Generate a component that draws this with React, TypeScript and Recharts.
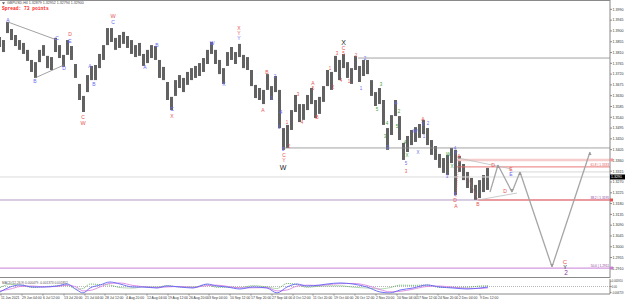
import React from 'react';
import { ComposedChart, Bar, Line, XAxis, YAxis, ReferenceLine, ReferenceDot } from 'recharts';

// H4 candles grouped in 4px columns, high / low
const highs = [
  1.3875, 1.3862, 1.3937, 1.3908, 1.3883, 1.3862, 1.3850, 1.3821, 1.3779, 1.3770,
  1.3821, 1.3841, 1.3796, 1.3791, 1.3871, 1.3841, 1.3800, 1.3862, 1.3837, 1.3762,
  1.3679, 1.3629, 1.3716, 1.3754, 1.3758, 1.3804, 1.3841, 1.3912, 1.3912, 1.3871,
  1.3883, 1.3896, 1.3879, 1.3862, 1.3841, 1.3850, 1.3804, 1.3821, 1.3841, 1.3837,
  1.3779, 1.3750, 1.3687, 1.3625, 1.3695, 1.3716, 1.3704, 1.3729, 1.3745, 1.3754,
  1.3766, 1.3787, 1.3821, 1.3854, 1.3821, 1.3779, 1.3745, 1.3812, 1.3833, 1.3812,
  1.3846, 1.3800, 1.3791, 1.3737, 1.3675, 1.3662, 1.3654, 1.3720, 1.3670, 1.3712,
  1.3654, 1.3495, 1.3508, 1.3570, 1.3633, 1.3595, 1.3595, 1.3633, 1.3662, 1.3612,
  1.3625, 1.3670, 1.3737, 1.3729, 1.3796, 1.3779, 1.3804, 1.3770, 1.3745, 1.3796,
  1.3754, 1.3779, 1.3779, 1.3695, 1.3645, 1.3662, 1.3612, 1.3495, 1.3549, 1.3612,
  1.3545, 1.3433, 1.3462, 1.3487, 1.3499, 1.3512, 1.3529, 1.3495, 1.3445, 1.3420,
  1.3387, 1.3370, 1.3383, 1.3412, 1.3404, 1.3379, 1.3345, 1.3312, 1.3287, 1.3258,
  1.3278, 1.3299, 1.3329,
];
const lows = [
  1.3833, 1.3812, 1.3891, 1.3862, 1.3837, 1.3821, 1.3804, 1.3775, 1.3729, 1.3704,
  1.3770, 1.3796, 1.3745, 1.3737, 1.3812, 1.3787, 1.3750, 1.3800, 1.3779, 1.3704,
  1.3612, 1.3562, 1.3645, 1.3695, 1.3695, 1.3745, 1.3779, 1.3841, 1.3854, 1.3821,
  1.3829, 1.3846, 1.3829, 1.3804, 1.3791, 1.3796, 1.3754, 1.3766, 1.3787, 1.3779,
  1.3704, 1.3695, 1.3612, 1.3570, 1.3629, 1.3662, 1.3645, 1.3675, 1.3695, 1.3704,
  1.3712, 1.3729, 1.3762, 1.3804, 1.3762, 1.3720, 1.3679, 1.3754, 1.3779, 1.3762,
  1.3791, 1.3745, 1.3737, 1.3670, 1.3620, 1.3612, 1.3595, 1.3654, 1.3612, 1.3645,
  1.3495, 1.3404, 1.3412, 1.3487, 1.3562, 1.3520, 1.3529, 1.3570, 1.3595, 1.3537,
  1.3554, 1.3604, 1.3670, 1.3654, 1.3729, 1.3695, 1.3745, 1.3704, 1.3679, 1.3737,
  1.3687, 1.3712, 1.3720, 1.3629, 1.3587, 1.3595, 1.3508, 1.3404, 1.3466, 1.3545,
  1.3445, 1.3362, 1.3395, 1.3424, 1.3437, 1.3454, 1.3470, 1.3424, 1.3383, 1.3362,
  1.3329, 1.3308, 1.3299, 1.3349, 1.3216, 1.3312, 1.3278, 1.3245, 1.3224, 1.3195,
  1.3203, 1.3228, 1.3237,
];

const priceTicks = [
  1.3990, 1.3945, 1.3900, 1.3855, 1.3810, 1.3765, 1.3720, 1.3675, 1.3630, 1.3585,
  1.3540, 1.3495, 1.3450, 1.3405, 1.3360, 1.3315, 1.3270, 1.3225, 1.3180, 1.3135,
  1.3090, 1.3045, 1.3000, 1.2955, 1.2910,
];

const dateTicks = [
  0.25, 5.5, 10.75, 16, 21.25, 26.25, 31.5, 36.75, 42, 47.25, 52.25, 57.5,
  62.75, 68, 73.25, 78.25, 83.5, 88.75, 94, 99.25, 104.25, 109.5, 114.75, 120,
];
const dateLabels = [
  '11 Jun 2021', '29 Jun 04:00', '6 Jul 12:00', '13 Jul 20:00', '21 Jul 04:00', '28 Jul 12:00',
  '4 Aug 20:00', '12 Aug 04:00', '19 Aug 12:00', '26 Aug 20:00', '3 Sep 04:00', '10 Sep 12:00',
  '17 Sep 20:00', '27 Sep 04:00', '4 Oct 12:00', '11 Oct 20:00', '19 Oct 04:00', '26 Oct 12:00',
  '2 Nov 20:00', '10 Nov 04:00', '17 Nov 12:00', '24 Nov 20:00', '2 Dec 04:00', '9 Dec 12:00',
];

// forecast path (column, price)
const pathT = [122.5, 124.5, 128, 130, 138, 147.5];
const pathP = [1.3228, 1.3341, 1.3228, 1.3312, 1.2916, 1.3395];

// oscillator
const oscT = [
  0, 2.5, 5, 8.25, 10.75, 14.25, 16.75, 19.25, 20.75, 22.5, 25, 27.5, 30, 33.25, 35.75,
  39.25, 41.75, 45, 48.25, 51.75, 54.25, 56.75, 60, 63.25, 66.75, 69.25, 71.75, 74.25,
  76.75, 80, 81.75, 85, 88.25, 91.75, 95, 97.5, 100, 103.25, 106.75, 110, 113.25, 116.75,
  120, 122,
];
const macdMain = [
  -0.0062, -0.0006, 0.0017, -0.0006, -0.0006, 0.0006, 0.0028, -0.0040, -0.0073, -0.0017,
  0.0017, 0.0051, 0.0028, -0.0006, -0.0006, -0.0017, 0.0006, -0.0006, -0.0017, 0.0028,
  0.0006, -0.0006, -0.0028, -0.0006, -0.0017, -0.0073, -0.0006, 0.0028, 0.0006, 0.0017,
  0.0028, 0.0040, 0.0028, -0.0006, -0.0062, -0.0073, -0.0040, -0.0017, 0.0017, -0.0006,
  -0.0017, -0.0028, -0.0017, -0.0006,
];
const macdSignal = [
  -0.0050, -0.0030, 0.0000, 0.0005, -0.0004, 0.0000, 0.0015, -0.0010, -0.0050, -0.0045,
  -0.0005, 0.0035, 0.0040, 0.0012, -0.0002, -0.0010, -0.0005, 0.0000, -0.0010, 0.0010,
  0.0015, 0.0002, -0.0015, -0.0015, -0.0012, -0.0050, -0.0040, 0.0005, 0.0015, 0.0012,
  0.0020, 0.0032, 0.0035, 0.0012, -0.0035, -0.0060, -0.0055, -0.0030, 0.0000, 0.0005,
  -0.0008, -0.0020, -0.0022, -0.0015,
];
const macdHist = [
  -0.0012, 0.0024, 0.0017, -0.0011, -0.0002, 0.0006, 0.0013, -0.0030, -0.0023, 0.0028,
  0.0022, 0.0016, -0.0012, -0.0018, -0.0004, -0.0007, 0.0011, -0.0006, -0.0007, 0.0018,
  -0.0009, -0.0008, -0.0013, 0.0009, -0.0005, -0.0023, 0.0034, 0.0023, -0.0009, 0.0005,
  0.0008, 0.0008, -0.0007, -0.0018, -0.0027, -0.0013, 0.0015, 0.0013, 0.0017, -0.0011,
  -0.0009, -0.0008, 0.0005, 0.0009,
];

const RED = '#e65353';
const BLUE = '#6a6af2';
const GREEN = '#3c9c3c';
const BLACK = '#222';
const PURPLE = '#8a3a9e';

// wave labels: column, price, text, colour, size
const waveLabels: [number, number, string, string, number][] = [
  [2, 1.3946, 'A', BLUE, 5], [8.75, 1.3691, 'B', BLUE, 5], [14.25, 1.3871, 'C', BLUE, 5],
  [16, 1.3745, 'D', BLUE, 5], [17.5, 1.3887, 'D', RED, 5], [17.5, 1.3858, 'E', BLUE, 5],
  [28.25, 1.3962, 'W', RED, 5.5], [28.25, 1.3937, 'C', BLUE, 5], [22.5, 1.3754, 'A', BLUE, 5],
  [23.5, 1.3679, 'B', BLUE, 5], [20.75, 1.3541, 'C', RED, 5], [20.75, 1.3516, 'W', RED, 5.5],
  [39.25, 1.3841, 'B', BLUE, 5], [36.25, 1.3750, 'A', BLUE, 5], [43, 1.3574, 'C', BLUE, 5],
  [43, 1.3545, 'X', RED, 5], [53, 1.3850, 'W', BLUE, 5], [56, 1.3679, 'X', BLUE, 5],
  [59.75, 1.3912, 'X', RED, 5], [59.75, 1.3891, 'Y', RED, 5], [59.75, 1.3871, 'Y', BLUE, 5],
  [66.75, 1.3729, 'B', RED, 5], [65.75, 1.3570, 'A', RED, 5], [68.75, 1.3708, '2', BLUE, 4.5],
  [68, 1.3620, '1', BLUE, 4.5], [70.25, 1.3558, '4', BLUE, 4.5], [69.75, 1.3499, '3', BLUE, 4.5],
  [70.75, 1.3404, '5', BLUE, 4.5], [71, 1.3383, 'C', RED, 5], [71, 1.3362, 'Y', RED, 5],
  [70.75, 1.3330, 'W', BLACK, 7], [71.75, 1.3520, '1', RED, 4.5], [72.25, 1.3420, '2', RED, 4.5],
  [74.5, 1.3637, '3', RED, 4.5], [75.5, 1.3520, '4', RED, 4.5], [78.25, 1.3683, 'A', RED, 5],
  [78.25, 1.3658, '5', RED, 4.5], [79.25, 1.3541, 'B', RED, 5], [82.5, 1.3745, '1', RED, 4.5],
  [83.25, 1.3666, '2', RED, 4.5], [84.25, 1.3804, '3', RED, 4.5], [85.25, 1.3695, '4', RED, 4.5],
  [85.9, 1.3804, '5', RED, 4.5], [85.9, 1.3827, 'C', RED, 5], [85.9, 1.3852, 'X', BLACK, 7],
  [87.25, 1.3691, '1', RED, 4.5], [89, 1.3796, '2', RED, 4.5], [90.25, 1.3662, '1', BLUE, 4.5],
  [91.25, 1.3783, '2', BLUE, 4.5], [95.25, 1.3675, '3', GREEN, 4.5], [94.25, 1.3574, '5', GREEN, 4.5],
  [99, 1.3599, '4', BLUE, 4.5], [99.75, 1.3562, '2', GREEN, 4.5], [99.25, 1.3503, '5', GREEN, 4.5],
  [96.75, 1.3512, '4', GREEN, 4.5], [96.25, 1.3458, '3', GREEN, 4.5], [97, 1.3412, '3', BLUE, 4.5],
  [103.75, 1.3483, 'W', BLUE, 5], [105.75, 1.3533, 'A', RED, 5], [105.75, 1.3512, 'Y', BLUE, 5],
  [107, 1.3516, '2', BLUE, 4.5], [106, 1.3458, '1', BLUE, 4.5], [101.25, 1.3433, '4', GREEN, 4.5],
  [101.75, 1.3379, 'X', GREEN, 4.5], [101.5, 1.3349, '5', BLUE, 4.5], [101.5, 1.3312, '3', RED, 4.5],
  [104.5, 1.3391, 'X', BLUE, 4.5], [112, 1.3383, 'W', GREEN, 4.5], [113.75, 1.3408, '4', BLUE, 4.5],
  [114, 1.3387, 'Y', BLUE, 4.5], [113, 1.3333, 'X', GREEN, 4.5], [111.75, 1.3291, '3', BLUE, 4.5],
  [114.75, 1.3379, 'A', RED, 5], [113.75, 1.3216, '5', BLUE, 4.5], [113.75, 1.3195, 'D', RED, 5],
  [114, 1.3170, 'A', RED, 5], [119.5, 1.3178, 'B', RED, 5], [123.25, 1.3341, 'D', RED, 5],
  [126.25, 1.3233, 'D', RED, 5], [127.75, 1.3324, 'E', RED, 5], [127.75, 1.3303, 'E', BLUE, 5],
  [141.25, 1.2936, 'C', RED, 6], [141.25, 1.2915, 'Y', BLACK, 5.5], [141.5, 1.2892, '2', PURPLE, 6.5],
];

const FONT = '"Liberation Sans", Arial, sans-serif';
const T_MAX = 152.5;

const candleRows = highs.map((h, i) => ({ t: i, range: [lows[i], h] }));
const oscRows = oscT.map((t, i) => ({ t, main: macdMain[i], signal: macdSignal[i], hist: macdHist[i] }));

const PriceTick = (props: any) => {
  const { x, y, payload } = props;
  return (
    <text x={x + 0.5} y={y + 1.3} fontSize={3.6} fill="#333" fontFamily={FONT}>
      {payload.value.toFixed(4)}
    </text>
  );
};

const DateTick = (props: any) => {
  const { x, y, index } = props;
  return (
    <text x={x} y={y + 3.5} fontSize={3.4} fill="#333" fontFamily={FONT}>
      {dateLabels[index]}
    </text>
  );
};

const OscTick = (props: any) => {
  const { x, y, payload } = props;
  const v = payload.value;
  const s = v > 0 ? '0.005910' : v < 0 ? '-0.006719' : '0.00';
  return (
    <text x={x + 0.3} y={y + 1.1} fontSize={2.6} fill="#333" fontFamily={FONT}>
      {s}
    </text>
  );
};

const seg = (a: number, b: number, p: number) => [
  { x: a, y: p },
  { x: b, y: p },
];

export default function App() {
  return (
    <div style={{ position: 'relative', width: 625, height: 302, background: '#fff', overflow: 'hidden' }}>
      <style>{'body{margin:0}'}</style>
      <div style={{ position: 'absolute', left: 0, top: 0 }}>
        <ComposedChart width={625} height={278} data={candleRows} margin={{ top: 0, right: 0, left: 0, bottom: 0 }} style={{ overflow: 'visible' }}>
          <XAxis dataKey="t" type="number" domain={[0, T_MAX]} hide allowDataOverflow />
          <YAxis
            orientation="right"
            width={15}
            type="number"
            domain={[1.28697, 1.4029]}
            ticks={priceTicks}
            tick={<PriceTick />}
            tickSize={2}
            tickMargin={0}
            axisLine={{ stroke: '#888' }}
            tickLine={{ stroke: '#888' }}
            allowDataOverflow
            interval={0}
          />

          {/* horizontal levels */}
          <ReferenceLine y={1.3291} stroke="#dcdcdc" strokeWidth={1} />
          <ReferenceLine y={1.3195} stroke="#9b7fb3" strokeWidth={0.8} />
          <ReferenceLine y={1.2911} stroke="#c77fd6" strokeWidth={1} />
          <ReferenceLine segment={seg(89.5, T_MAX, 1.3787)} stroke="#8c8c8c" strokeWidth={0.8} />
          <ReferenceLine segment={seg(70.75, T_MAX, 1.3412)} stroke="#8c8c8c" strokeWidth={0.8} />
          <ReferenceLine segment={seg(114.25, T_MAX, 1.3362)} stroke="#f7cccc" strokeWidth={2.5} />
          <ReferenceLine segment={seg(114.25, T_MAX, 1.3333)} stroke="#e66a6a" strokeWidth={0.9} />
          <ReferenceLine segment={seg(127.5, T_MAX, 1.3312)} stroke="#c4c4c4" strokeWidth={0.7} />
          <ReferenceLine segment={seg(119.5, T_MAX, 1.3195)} stroke="#f08a8a" strokeWidth={1.6} />

          {/* triangles */}
          <ReferenceLine segment={[{ x: 2, y: 1.3937 }, { x: 14.25, y: 1.3862 }]} stroke="#8a8a8a" strokeWidth={0.8} />
          <ReferenceLine segment={[{ x: 8.75, y: 1.3704 }, { x: 16, y: 1.3758 }]} stroke="#8a8a8a" strokeWidth={0.8} />
          <ReferenceLine segment={[{ x: 114.5, y: 1.3370 }, { x: 128, y: 1.3324 }]} stroke="#bdbdbd" strokeWidth={0.8} />
          <ReferenceLine segment={[{ x: 119.5, y: 1.3195 }, { x: 129.25, y: 1.3224 }]} stroke="#bdbdbd" strokeWidth={0.8} />
          <ReferenceLine segment={[{ x: 114.75, y: 1.3362 }, { x: 114, y: 1.3208 }]} stroke="#e66a6a" strokeWidth={0.6} strokeDasharray="1 1" />
          <ReferenceLine segment={[{ x: 117, y: 1.3287 }, { x: 119.5, y: 1.3195 }]} stroke="#e66a6a" strokeWidth={0.6} strokeDasharray="1 1" />

          <Bar dataKey="range" barSize={3} fill="#626262" isAnimationActive={false} />

          {/* forecast path */}
          {pathT.slice(1).map((t, i) => (
            <ReferenceLine
              key={'p' + i}
              segment={[{ x: pathT[i], y: pathP[i] }, { x: t, y: pathP[i + 1] }]}
              stroke="#a5a5a5"
              strokeWidth={1.3}
            />
          ))}
          {pathT.slice(1).map((t, i) => (
            <ReferenceDot
              key={'h' + i}
              x={t}
              y={pathP[i + 1]}
              r={0}
              ifOverflow="visible"
              shape={(d: any) => {
                const up = pathP[i + 1] > pathP[i];
                const dy = up ? 1 : -1;
                return (
                  <polygon
                    points={`${d.cx},${d.cy} ${d.cx - 1.6},${d.cy + dy * 3} ${d.cx + 1.6},${d.cy + dy * 3}`}
                    fill="#9a9a9a"
                  />
                );
              }}
            />
          ))}

          {waveLabels.map(([t, p, s, c, fs], i) => (
            <ReferenceDot
              key={i}
              x={t}
              y={p}
              r={0}
              ifOverflow="visible"
              shape={(d: any) => (
                <text
                  x={d.cx}
                  y={d.cy}
                  textAnchor="middle"
                  dominantBaseline="central"
                  fontSize={fs}
                  fill={c}
                  fontFamily={FONT}
                >
                  {s}
                </text>
              )}
            />
          ))}

          {/* fib level captions */}
          {[
            [1.3333, '61.8 | 1.3333', RED],
            [1.3195, '38.2 | 1.3195', PURPLE],
            [1.2911, '50.0 | 1.2911', PURPLE],
          ].map(([p, s, c], i) => (
            <ReferenceDot
              key={'f' + i}
              x={T_MAX}
              y={p as number}
              r={0}
              ifOverflow="visible"
              shape={(d: any) => (
                <text x={d.cx - 1} y={d.cy - 1} textAnchor="end" fontSize={3.2} fill={c as string} fontFamily={FONT}>
                  {s as string}
                </text>
              )}
            />
          ))}

          {/* bid price tag */}
          <ReferenceDot
            x={T_MAX}
            y={1.3291}
            r={0}
            ifOverflow="visible"
            shape={(d: any) => (
              <g>
                <rect x={d.cx} y={d.cy - 2.5} width={15} height={5} fill="#000" />
                <text x={d.cx + 1} y={d.cy + 1.3} fontSize={3.6} fill="#fff" fontFamily={FONT}>
                  1.3291
                </text>
              </g>
            )}
          />
          <ReferenceDot
            x={T_MAX}
            y={1.3362}
            r={0}
            ifOverflow="visible"
            shape={(d: any) => <rect x={d.cx} y={d.cy - 1.5} width={3} height={3} fill="#f29a9a" />}
          />
          <ReferenceDot
            x={T_MAX}
            y={1.3195}
            r={0}
            ifOverflow="visible"
            shape={(d: any) => <rect x={d.cx} y={d.cy - 1.5} width={3} height={3} fill="#e65353" />}
          />
          <ReferenceDot
            x={T_MAX}
            y={1.2911}
            r={0}
            ifOverflow="visible"
            shape={(d: any) => <rect x={d.cx} y={d.cy - 1.5} width={3} height={3} fill="#c77fd6" />}
          />
        </ComposedChart>
      </div>

      <div style={{ position: 'absolute', left: 0, top: 278 }}>
        <ComposedChart width={625} height={24} data={oscRows} margin={{ top: 1, right: 0, left: 0, bottom: 0 }}>
          <XAxis
            dataKey="t"
            type="number"
            domain={[0, T_MAX]}
            ticks={dateTicks}
            interval={0}
            tick={<DateTick />}
            height={8}
            tickSize={1.5}
            tickMargin={0}
            axisLine={{ stroke: '#888' }}
            tickLine={{ stroke: '#888' }}
            allowDataOverflow
          />
          <YAxis
            orientation="right"
            width={15}
            type="number"
            domain={[-0.0085, 0.0085]}
            ticks={[0.0059, 0, -0.0067]}
            tick={<OscTick />}
            tickSize={1.5}
            tickMargin={0}
            axisLine={{ stroke: '#888' }}
            tickLine={{ stroke: '#888' }}
            interval={0}
          />
          <ReferenceLine y={0} stroke="#999" strokeDasharray="1 1" strokeWidth={0.7} />
          <Line dataKey="hist" type="monotone" stroke={GREEN} strokeWidth={0.8} strokeDasharray="1 1" dot={false} activeDot={false} isAnimationActive={false} />
          <Line dataKey="signal" type="monotone" stroke="#d986e3" strokeWidth={0.9} dot={false} activeDot={false} isAnimationActive={false} />
          <Line dataKey="main" type="monotone" stroke="#6262f5" strokeWidth={0.9} dot={false} activeDot={false} isAnimationActive={false} />
        </ComposedChart>
      </div>

      {/* panel frame */}
      <div
        style={{
          position: 'absolute',
          left: 0,
          top: 0,
          width: 610,
          height: 278,
          borderTop: '1px solid #8a8a8a',
          borderBottom: '1px solid #8a8a8a',
          boxSizing: 'border-box',
          pointerEvents: 'none',
        }}
      />

      <svg width={625} height={302} style={{ position: 'absolute', left: 0, top: 0, pointerEvents: 'none' }}>
        <polygon points="2,2.2 5,2.2 3.5,4.6" fill="#555" />
        <text x={7} y={4.3} fontSize={3.6} fill="#444" fontFamily={FONT}>
          GBPUSD,H4  1.32879 1.32952 1.32794 1.32900
        </text>
        <text x={2} y={10} fontSize={4.6} fontWeight="bold" fill="#f22" fontFamily='"Liberation Mono", monospace'>
          Spread: 73 points
        </text>
        <text x={2} y={283.5} fontSize={3.2} fill="#555" fontFamily={FONT}>
          MACD(12,26,9) 0.000479 -0.001373 0.001852
        </text>
      </svg>
    </div>
  );
}
